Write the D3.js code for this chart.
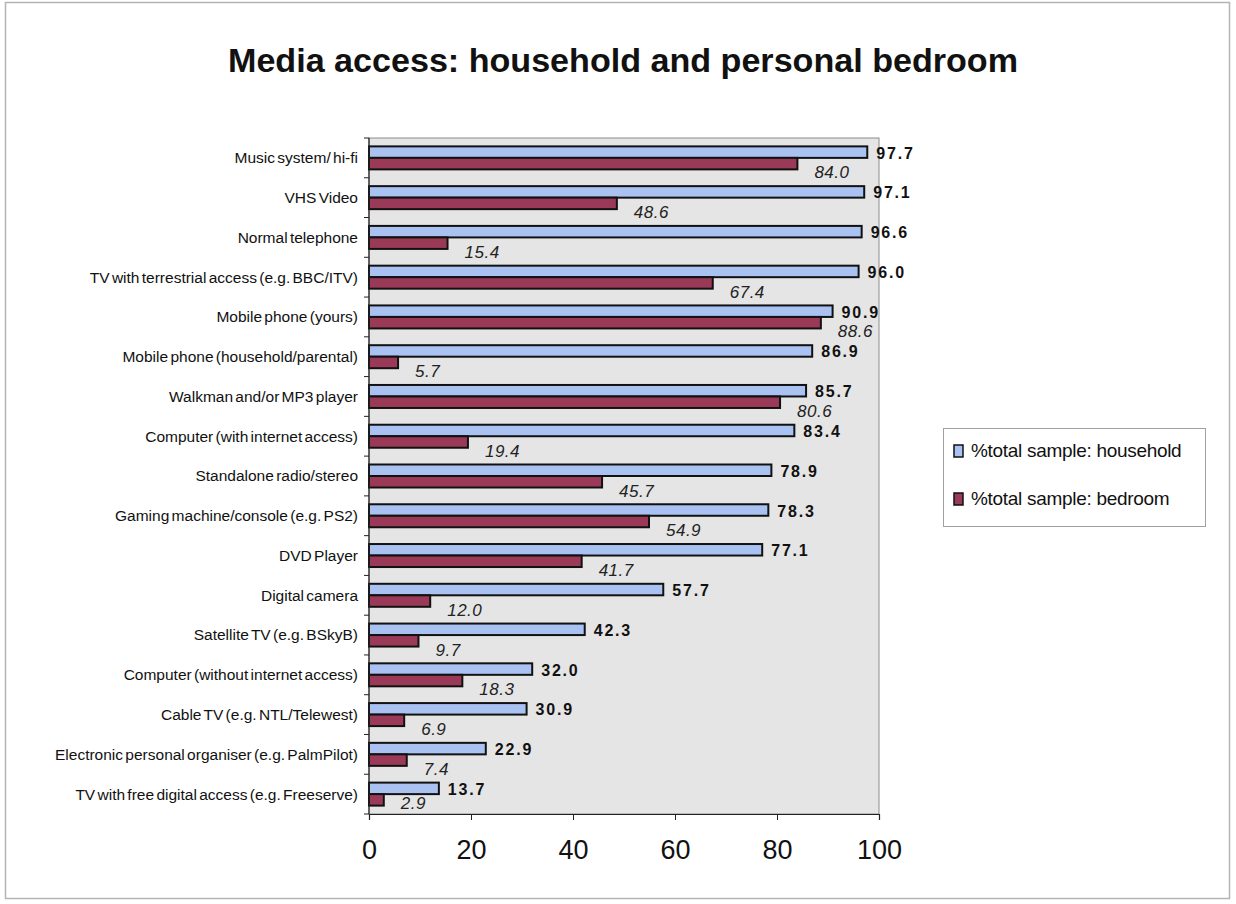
<!DOCTYPE html>
<html>
<head>
<meta charset="utf-8">
<script src="https://cdn.jsdelivr.net/npm/d3@7"></script>
<style>
  html, body { margin: 0; padding: 0; background: #ffffff; }
  svg { display: block; font-family: "Liberation Sans", Arial, sans-serif; }
</style>
</head>
<body>
<svg id="chart" width="1236" height="904"></svg>
<script>
// Media items, listed top to bottom
const categories = [
  "Music system/ hi-fi",
  "VHS Video",
  "Normal telephone",
  "TV with terrestrial access (e.g. BBC/ITV)",
  "Mobile phone (yours)",
  "Mobile phone (household/parental)",
  "Walkman and/or MP3 player",
  "Computer (with internet access)",
  "Standalone radio/stereo",
  "Gaming machine/console (e.g. PS2)",
  "DVD Player",
  "Digital camera",
  "Satellite TV (e.g. BSkyB)",
  "Computer (without internet access)",
  "Cable TV (e.g. NTL/Telewest)",
  "Electronic personal organiser (e.g. PalmPilot)",
  "TV with free digital access (e.g. Freeserve)"
];

// % of total sample with access in the household
const household = [97.7, 97.1, 96.6, 96.0, 90.9, 86.9, 85.7, 83.4, 78.9, 78.3, 77.1, 57.7, 42.3, 32.0, 30.9, 22.9, 13.7];

// % of total sample with access in their own bedroom
const bedroom = [84.0, 48.6, 15.4, 67.4, 88.6, 5.7, 80.6, 19.4, 45.7, 54.9, 41.7, 12.0, 9.7, 18.3, 6.9, 7.4, 2.9];

const xTicks = [0, 20, 40, 60, 80, 100];
const seriesNames = ["%total sample: household", "%total sample: bedroom"];
const titleText = "Media access: household and personal bedroom";

const colors = { household: "#a9c2f2", bedroom: "#9a3a58" };

const svg = d3.select("#chart");

// outer chart frame
svg.append("rect")
  .attr("x", 5.5).attr("y", 2.5)
  .attr("width", 1224).attr("height", 896)
  .attr("fill", "#ffffff")
  .attr("stroke", "#b4b4b4").attr("stroke-width", 1.5);

// title
svg.append("text")
  .attr("x", 623).attr("y", 72)
  .attr("text-anchor", "middle")
  .attr("font-size", 34).attr("font-weight", "bold")
  .attr("fill", "#111")
  .attr("textLength", 790).attr("lengthAdjust", "spacingAndGlyphs")
  .text(titleText);

const plot = { left: 369, right: 879, top: 138, bottom: 814 };

const x = d3.scaleLinear().domain([0, 100]).range([plot.left, plot.right]);
const y = d3.scaleBand().domain(categories).range([plot.top, plot.bottom]).padding(0);

// plot background
svg.append("rect")
  .attr("x", plot.left).attr("y", plot.top)
  .attr("width", plot.right - plot.left).attr("height", plot.bottom - plot.top)
  .attr("fill", "#e5e5e5")
  .attr("stroke", "#8c8c8c").attr("stroke-width", 1);

const barH = 11.5;
const rows = categories.map((c, i) => ({ cat: c, h: household[i], b: bedroom[i] }));

const g = svg.append("g");

// household bars (upper bar in each group)
g.selectAll("rect.hh").data(rows).join("rect")
  .attr("class", "hh")
  .attr("x", x(0))
  .attr("y", d => y(d.cat) + y.bandwidth() / 2 - barH)
  .attr("width", d => x(d.h) - x(0))
  .attr("height", barH)
  .attr("fill", colors.household)
  .attr("stroke", "#111").attr("stroke-width", 2);

// bedroom bars (lower bar in each group)
g.selectAll("rect.bd").data(rows).join("rect")
  .attr("class", "bd")
  .attr("x", x(0))
  .attr("y", d => y(d.cat) + y.bandwidth() / 2)
  .attr("width", d => x(d.b) - x(0))
  .attr("height", barH)
  .attr("fill", colors.bedroom)
  .attr("stroke", "#111").attr("stroke-width", 2);

// household value labels: bold, beside the bar
g.selectAll("text.hv").data(rows).join("text")
  .attr("class", "hv")
  .attr("x", d => x(d.h) + 9)
  .attr("y", d => y(d.cat) + y.bandwidth() / 2 - barH / 2 + 6.5)
  .attr("font-size", 16).attr("font-weight", "bold")
  .attr("letter-spacing", 1.8)
  .attr("fill", "#111")
  .text(d => d.h.toFixed(1));

// bedroom value labels: italic, below right of the bar, kept inside the plot
g.selectAll("text.bv").data(rows).join("text")
  .attr("class", "bv")
  .attr("x", d => x(d.b) + 17)
  .attr("y", d => Math.min(y(d.cat) + y.bandwidth() / 2 + barH + 9, plot.bottom - 5))
  .attr("font-size", 17).attr("font-style", "italic")
  .attr("letter-spacing", 0.5)
  .attr("fill", "#222")
  .text(d => d.b.toFixed(1));

// category axis: line, ticks at band boundaries, labels
const yAxis = svg.append("g");
yAxis.append("line")
  .attr("x1", plot.left).attr("x2", plot.left)
  .attr("y1", plot.top).attr("y2", plot.bottom)
  .attr("stroke", "#222").attr("stroke-width", 1.2);
const bounds = categories.map(c => y(c)).concat([y.range()[1]]);
yAxis.selectAll("line.tk").data(bounds).join("line")
  .attr("class", "tk")
  .attr("x1", plot.left - 5).attr("x2", plot.left)
  .attr("y1", d => d).attr("y2", d => d)
  .attr("stroke", "#222").attr("stroke-width", 1);
yAxis.selectAll("text").data(categories).join("text")
  .attr("x", 358)
  .attr("y", d => y(d) + y.bandwidth() / 2)
  .attr("dy", "0.35em")
  .attr("text-anchor", "end")
  .attr("font-size", 15.5)
  .attr("word-spacing", -2)
  .attr("fill", "#111")
  .text(d => d);

// value axis
const xAxis = svg.append("g")
  .attr("transform", `translate(0,${plot.bottom})`)
  .call(d3.axisBottom(x).tickValues(xTicks).tickSize(6).tickPadding(20).tickFormat(d3.format("d")));
xAxis.select(".domain").attr("stroke", "#222").attr("stroke-width", 1.2);
xAxis.selectAll(".tick line").attr("stroke", "#222");
xAxis.selectAll(".tick text")
  .attr("font-size", 27)
  .attr("font-family", "\"Liberation Sans\", Arial, sans-serif")
  .attr("fill", "#111");

// legend
const legend = svg.append("g");
legend.append("rect")
  .attr("x", 943.5).attr("y", 428.5)
  .attr("width", 262).attr("height", 98)
  .attr("fill", "#ffffff")
  .attr("stroke", "#a0a0a0").attr("stroke-width", 1);
const legendItems = [
  { name: seriesNames[0], color: colors.household, yy: 457 },
  { name: seriesNames[1], color: colors.bedroom, yy: 505 }
];
legend.selectAll("rect.sw").data(legendItems).join("rect")
  .attr("class", "sw")
  .attr("x", 954).attr("y", d => d.yy - 12)
  .attr("width", 9).attr("height", 12)
  .attr("fill", d => d.color)
  .attr("stroke", "#111").attr("stroke-width", 1.5);
legend.selectAll("text").data(legendItems).join("text")
  .attr("x", 971).attr("y", d => d.yy)
  .attr("font-size", 19)
  .attr("letter-spacing", -0.3)
  .attr("fill", "#111")
  .text(d => d.name);
</script>
</body>
</html>
